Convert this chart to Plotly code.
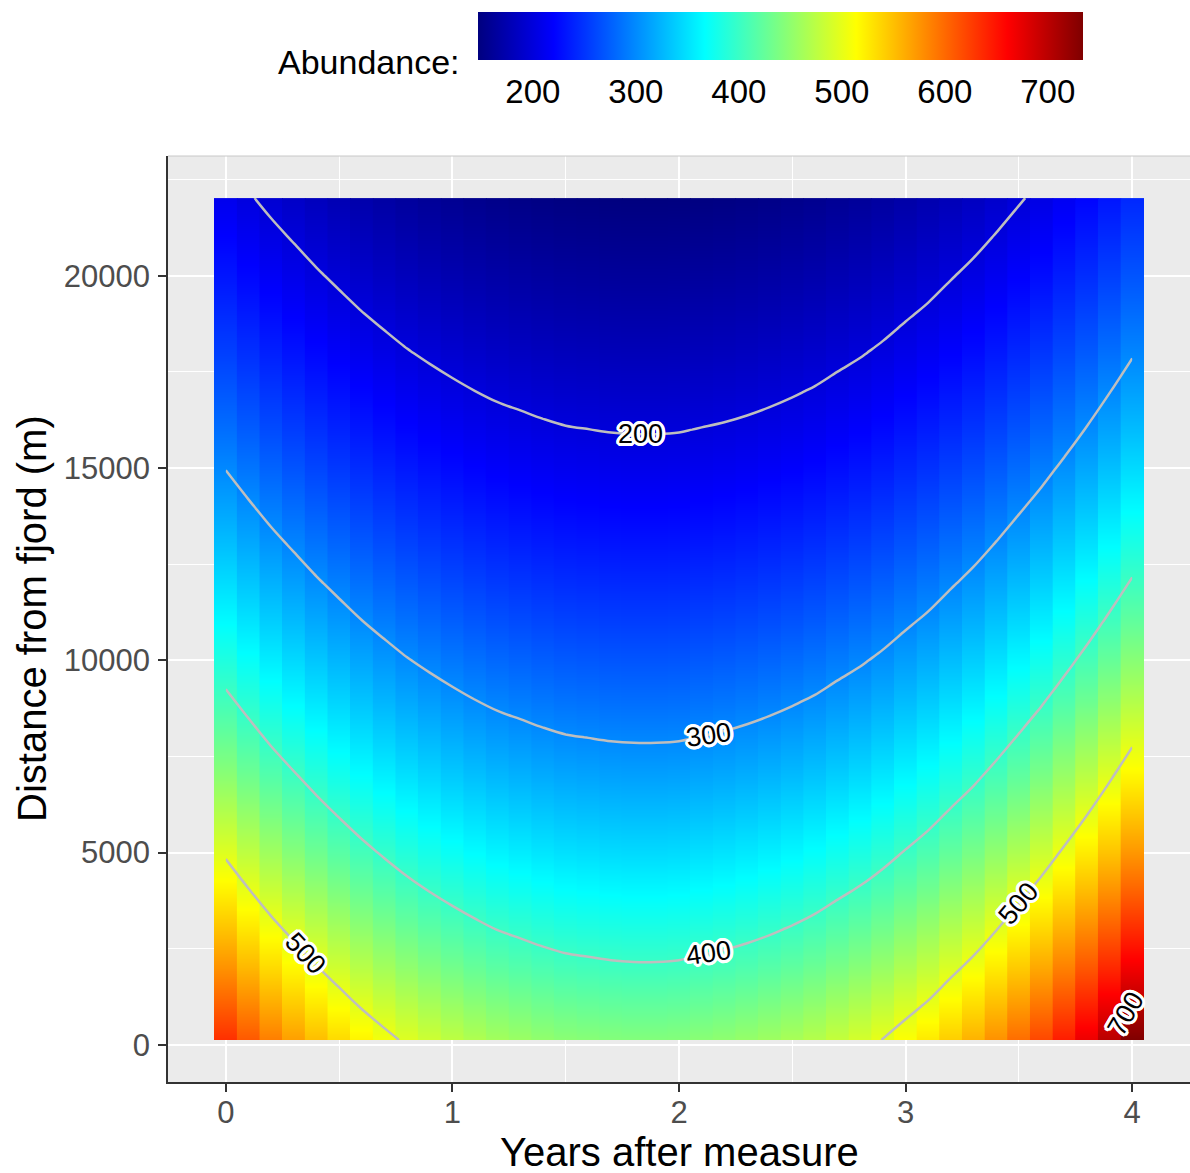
import numpy as np
import plotly.graph_objects as go

# ---------------- data ----------------
years = [0.0, 0.1, 0.2, 0.3, 0.4, 0.5, 0.6, 0.7, 0.8, 0.9,
         1.0, 1.1, 1.2, 1.3, 1.4, 1.5, 1.6, 1.7, 1.8, 1.9,
         2.0, 2.1, 2.2, 2.3, 2.4, 2.5, 2.6, 2.7, 2.8, 2.9,
         3.0, 3.1, 3.2, 3.3, 3.4, 3.5, 3.6, 3.7, 3.8, 3.9, 4.0]

# abundance right at the fjord (distance 0) for each year column
abundance_at_fjord = [638, 614, 592, 573, 555, 539, 524, 511, 499, 489,
                      480, 472, 465, 460, 455, 451, 449, 447, 446, 446,
                      447, 450, 453, 457, 462, 468, 475, 484, 493, 504,
                      517, 530, 546, 562, 581, 602, 624, 649, 676, 706, 739]

# distance rows and abundance relative to the fjord value
distance_m = [130, 1000, 2000, 3000, 4000, 5000, 6000, 7000, 8000, 9000,
              10000, 11000, 12000, 13000, 14000, 15000, 16000, 17000,
              18000, 19000, 20000, 21000, 22020]
relative_to_fjord = [0.9935, 0.9508, 0.9039, 0.8594, 0.8171, 0.7769, 0.7386,
                     0.7022, 0.6676, 0.6348, 0.6035, 0.5738, 0.5455, 0.5187,
                     0.4931, 0.4688, 0.4457, 0.4238, 0.4029, 0.3831, 0.3642,
                     0.3463, 0.3289]

contour_levels = [200, 300, 400, 500]
colorbar_ticks = [200, 300, 400, 500, 600, 700]
x_ticks = [0, 1, 2, 3, 4]
y_ticks = [0, 5000, 10000, 15000, 20000]

# contour labels: year where the label sits, its level, and rotation
label_years = [1.83, 2.13, 2.13, 0.35, 3.50, 3.97]
label_levels = [200, 300, 400, 500, 500, 700]
label_angles = [0, -8, -8, 47, -50, -60]

tile_width = 0.1

# ---------------- build ----------------
z = np.outer(relative_to_fjord, abundance_at_fjord)   # rows: distance, cols: years
zmin, zmax = float(z.min()), float(z.max())

jet = [[0.0, '#00007F'], [0.125, '#0000FF'], [0.25, '#007FFF'],
       [0.375, '#00FFFF'], [0.5, '#7FFF7F'], [0.625, '#FFFF00'],
       [0.75, '#FF7F00'], [0.875, '#FF0000'], [1.0, '#7F0000']]

FONT = 'Liberation Sans, Arial, sans-serif'

# figure geometry (pixels)
W, H = 1190, 1173
ML, MR, MT, MB = 168, 0, 156, 91
PW, PH = W - ML - MR, H - MT - MB
CB_X0, CB_LEN, CB_Y0, CB_THICK = 478, 605, 12, 48


def px_x(px):
    return (px - ML) / PW


def px_y(py):
    return (H - MB - py) / PH


fig = go.Figure()

# one column of tiles per year: constant across the tile, smooth along distance
half = tile_width / 2 + 0.002
for j, yr in enumerate(years):
    col = z[:, j]
    fig.add_trace(go.Contour(
        x=[yr - half, yr + half], y=distance_m,
        z=np.column_stack([col, col]),
        coloraxis='coloraxis',
        contours=dict(coloring='heatmap', showlines=False),
        line=dict(width=0), hoverinfo='skip', showlegend=False,
    ))

# grey contour lines
fig.add_trace(go.Contour(
    x=years, y=distance_m, z=z,
    contours=dict(start=contour_levels[0], end=contour_levels[-1],
                  size=contour_levels[1] - contour_levels[0], coloring='none'),
    line=dict(color='#BEBEBE', width=2.5, smoothing=1.0),
    showscale=False, hoverinfo='skip', showlegend=False,
))

halo = ", ".join(f"white {dx}px {dy}px 0px" for dx, dy in
                 [(3, 0), (-3, 0), (0, 3), (0, -3), (2, 2), (-2, 2), (2, -2), (-2, -2),
                  (3, 1), (3, -1), (-3, 1), (-3, -1), (1, 3), (-1, 3), (1, -3), (-1, -3)])

rel_rev = relative_to_fjord[::-1]
dist_rev = distance_m[::-1]
for yr, lev, ang in zip(label_years, label_levels, label_angles):
    a = np.interp(yr, years, abundance_at_fjord)
    d = float(np.interp(lev / a, rel_rev, dist_rev))
    fig.add_annotation(x=yr, y=d, text=str(lev), textangle=ang, showarrow=False,
                       font=dict(family=FONT, size=27, color='black', shadow=halo))

# white tick marks on top and bottom edge of the colour bar
for v in colorbar_ticks:
    xp = px_x(CB_X0 + (v - zmin) / (zmax - zmin) * CB_LEN)
    for y0, y1 in [(CB_Y0, CB_Y0 + 10), (CB_Y0 + CB_THICK - 10, CB_Y0 + CB_THICK)]:
        fig.add_shape(type='line', xref='paper', yref='paper',
                      x0=xp, x1=xp, y0=px_y(y0), y1=px_y(y1),
                      line=dict(color='white', width=1.5))

# legend title
fig.add_annotation(text='Abundance:', xref='paper', yref='paper',
                   x=px_x(462), y=px_y(62), xanchor='right', yanchor='middle',
                   showarrow=False, font=dict(family=FONT, size=34, color='black'))

# axis titles
fig.add_annotation(text='Years after measure', xref='paper', yref='paper',
                   x=0.5, y=px_y(1152), xanchor='center', yanchor='middle',
                   showarrow=False, font=dict(family=FONT, size=40, color='black'))
fig.add_annotation(text='Distance from fjord (m)', xref='paper', yref='paper',
                   x=px_x(32), y=0.5, xanchor='center', yanchor='middle', textangle=-90,
                   showarrow=False, font=dict(family=FONT, size=40, color='black'))

# thin top border of the panel
fig.add_shape(type='line', xref='paper', yref='paper', x0=0, x1=1, y0=1, y1=1,
              line=dict(color='#C8C8C8', width=1))

xspan = years[-1] - years[0] + tile_width
yspan = distance_m[-1] - distance_m[0]
fig.update_layout(
    width=W, height=H,
    margin=dict(l=ML, r=MR, t=MT, b=MB, autoexpand=False),
    paper_bgcolor='white', plot_bgcolor='#EBEBEB',
    font=dict(family=FONT),
    coloraxis=dict(
        colorscale=jet, cmin=zmin, cmax=zmax,
        colorbar=dict(
            orientation='h',
            x=px_x(CB_X0), xanchor='left', y=px_y(CB_Y0), yanchor='top',
            len=CB_LEN, lenmode='pixels', thickness=CB_THICK, thicknessmode='pixels',
            xpad=0, ypad=0, outlinewidth=0,
            tickvals=colorbar_ticks, ticks='outside', ticklen=4,
            tickcolor='rgba(0,0,0,0)',
            tickfont=dict(family=FONT, size=33, color='black'),
        ),
    ),
    xaxis=dict(
        range=[years[0] - tile_width / 2 - 0.05 * xspan, years[-1] + tile_width / 2 + 0.05 * xspan],
        tickvals=x_ticks, ticks='outside', ticklen=8, tickwidth=1.5, tickcolor='#333333',
        tickfont=dict(family=FONT, size=31, color='#4D4D4D'), ticklabelstandoff=-6,
        showgrid=True, gridcolor='white', gridwidth=2,
        minor=dict(dtick=0.5, tick0=0, showgrid=True, gridcolor='white', gridwidth=1),
        zeroline=False, showline=True, linecolor='#333333', linewidth=1.5,
    ),
    yaxis=dict(
        range=[distance_m[0] - 0.05 * yspan, distance_m[-1] + 0.05 * yspan],
        tickvals=y_ticks, tickformat='d', ticks='outside', ticklen=8, tickwidth=1.5,
        tickcolor='#333333', ticklabelstandoff=2,
        tickfont=dict(family=FONT, size=31, color='#4D4D4D'),
        showgrid=True, gridcolor='white', gridwidth=2,
        minor=dict(dtick=2500, tick0=0, showgrid=True, gridcolor='white', gridwidth=1),
        zeroline=False, showline=True, linecolor='#333333', linewidth=1.5,
    ),
)

fig.write_html('out.html', config={'displayModeBar': False},
               post_script="document.body.style.margin='0';")
